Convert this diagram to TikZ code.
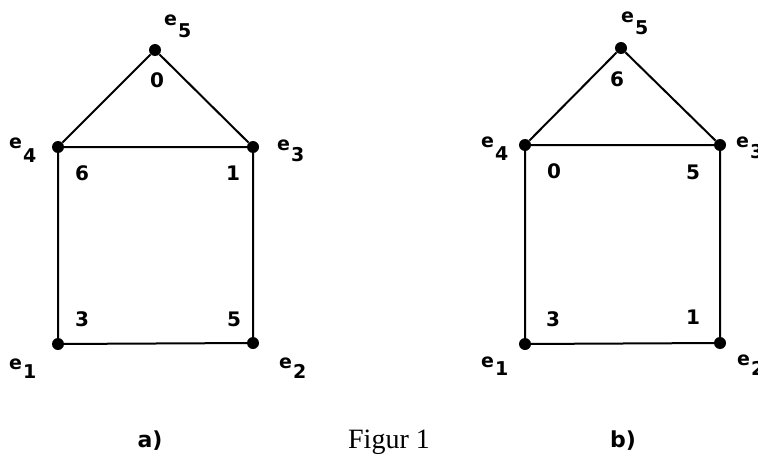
\documentclass[tikz,border=0pt]{standalone}
\usepackage{fontspec}
\setmainfont{Liberation Serif}
\newfontfamily\handfont{DejaVu Sans}
\newcommand{\elab}[2]{e\kern1pt\raisebox{-#2pt}{#1}}
\begin{document}
\begin{tikzpicture}[x=1pt,y=-1pt,
  vtx/.style={circle,fill=black,inner sep=0pt,minimum size=12pt},
  edge/.style={line width=2pt},
  lbl/.style={font=\handfont\bfseries\fontsize{19}{19}\selectfont,inner sep=0pt,anchor=base west},
  num/.style={font=\handfont\bfseries\fontsize{20}{20}\selectfont,inner sep=0pt},
  subcap/.style={font=\handfont\bfseries\fontsize{22}{22}\selectfont,inner sep=0pt}]
\useasboundingbox (0,0) rectangle (758,455);
% graph a
\node[vtx] (a5) at (155,50) {};
\node[vtx] (a4) at (58,147) {};
\node[vtx] (a3) at (253,147) {};
\node[vtx] (a1) at (58,344) {};
\node[vtx] (a2) at (253,343) {};
\draw[edge] (a5) -- (a4) -- (a3) -- (a5);
\draw[edge] (a4) -- (a1) -- (a2) -- (a3);
\node[lbl] (la5) at (164,25) {\elab{5}{12}};
\node[lbl] (la4) at (9,148) {\elab{4}{14}};
\node[lbl] (la3) at (277,150) {\elab{3}{11}};
\node[lbl] (la1) at (9,369) {\elab{1}{9}};
\node[lbl] (la2) at (279,368) {\elab{2}{10}};
\node[num] (na5) at (157,80) {0};
\node[num] (na4) at (82,173) {6};
\node[num] (na3) at (233,173) {1};
\node[num] (na1) at (82,319) {3};
\node[num] (na2) at (234,319) {5};
% graph b
\node[vtx] (b5) at (621,48) {};
\node[vtx] (b4) at (525,145) {};
\node[vtx] (b3) at (720,145) {};
\node[vtx] (b1) at (525,344) {};
\node[vtx] (b2) at (720,343) {};
\draw[edge] (b5) -- (b4) -- (b3) -- (b5);
\draw[edge] (b4) -- (b1) -- (b2) -- (b3);
\node[lbl] (lb5) at (621,23) {\elab{5}{12}};
\node[lbl] (lb4) at (481,147) {\elab{4}{13}};
\node[lbl] (lb3) at (736,147) {\elab{3}{11}};
\node[lbl] (lb1) at (481,367) {\elab{1}{8}};
\node[lbl] (lb2) at (737,365) {\elab{2}{10}};
\node[num] (nb5) at (617,79) {6};
\node[num] (nb4) at (554,171) {0};
\node[num] (nb3) at (693,172) {5};
\node[num] (nb1) at (553,319) {3};
\node[num] (nb2) at (693,317) {1};
% captions
\node[subcap] (ca) at (150,441) {a)};
\node[subcap] (cb) at (623,441) {b)};
\node[font=\fontsize{28}{28}\selectfont,inner sep=0pt,anchor=base] (fig) at (389,448) {Figur 1};
\end{tikzpicture}
\end{document}
